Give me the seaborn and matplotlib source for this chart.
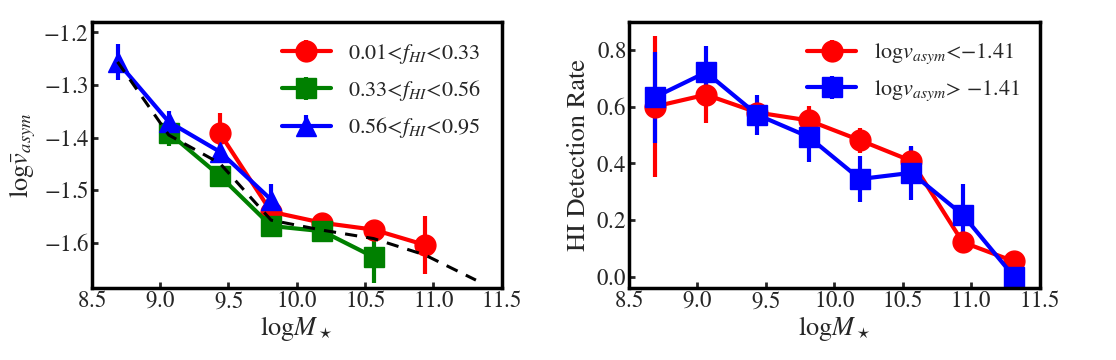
import numpy as np
import matplotlib
matplotlib.use('Agg')
import matplotlib.pyplot as plt
import seaborn as sns

# bin centres in stellar mass
mass = [8.6875, 9.0625, 9.4375, 9.8125, 10.1875, 10.5625, 10.9375, 11.3125]

# left panel: mean log v_asym in bins of HI fraction
low_x = [9.4375, 9.8125, 10.1875, 10.5625, 10.9375]
low_y = [-1.392, -1.541, -1.562, -1.575, -1.604]
low_err = [0.038, 0.012, 0.010, 0.012, 0.055]

mid_x = [9.0625, 9.4375, 9.8125, 10.1875, 10.5625]
mid_y = [-1.391, -1.473, -1.568, -1.578, -1.627]
mid_err = [0.025, 0.012, 0.010, 0.010, 0.050]

high_x = [8.6875, 9.0625, 9.4375, 9.8125]
high_y = [-1.256, -1.370, -1.427, -1.518]
high_err = [0.035, 0.020, 0.012, 0.030]

all_y = [-1.256, -1.395, -1.449, -1.557, -1.576, -1.592, -1.623, -1.671]

# right panel: HI detection rate split by asymmetry
det_low = [0.601, 0.643, 0.580, 0.552, 0.482, 0.409, 0.122, 0.054]
det_low_err = [0.25, 0.10, 0.03, 0.05, 0.045, 0.05, 0.04, 0.0]
det_high = [0.634, 0.722, 0.572, 0.494, 0.345, 0.367, 0.219, 0.0]
det_high_err = [0.16, 0.093, 0.07, 0.09, 0.08, 0.095, 0.108, 0.0]

sns.set_style('ticks')
plt.rcParams['font.family'] = ['STIXGeneral', 'DejaVu Serif']
plt.rcParams['mathtext.fontset'] = 'stix'
plt.rcParams['axes.formatter.use_mathtext'] = True
plt.rcParams['axes.unicode_minus'] = True
plt.rcParams['font.size'] = 16

fig = plt.figure(figsize=(11.16, 3.6), dpi=100)
ax1 = fig.add_axes([0.0824, 0.2, 0.367, 0.739])
ax2 = fig.add_axes([0.5636, 0.2, 0.368, 0.739])

kw = dict(lw=3, elinewidth=3, capsize=0, ms=15)
ax1.errorbar(low_x, low_y, yerr=low_err, color='red', marker='o',
             label='0.01<$f_{HI}$<0.33', **kw)
ax1.errorbar(mid_x, mid_y, yerr=mid_err, color='green', marker='s',
             label='0.33<$f_{HI}$<0.56', **kw)
ax1.errorbar(high_x, high_y, yerr=high_err, color='blue', marker='^',
             label='0.56<$f_{HI}$<0.95', **kw)
sns.lineplot(x=mass, y=all_y, ax=ax1, color='black', lw=2.2,
             linestyle=(0, (4, 3)), zorder=5, legend=False)
ax1.set_xlim(8.5, 11.5)
ax1.set_ylim(-1.686, -1.18)
ax1.set_yticks([-1.6, -1.5, -1.4, -1.3, -1.2])
ax1.set_xlabel(r'log$M_\star$', fontsize=19, labelpad=1)
ax1.set_ylabel(r'log$\bar{v}_{asym}$', fontsize=19, labelpad=4)
ax1.legend(loc='upper right', frameon=False, fontsize=16, handlelength=2.2,
           labelspacing=0.55, borderaxespad=0.5, handletextpad=0.8)

ax2.errorbar(mass, det_low, yerr=det_low_err, color='red', marker='o',
             label='log$v_{asym}$<\u22121.41', **kw)
ax2.errorbar(mass, det_high, yerr=det_high_err, color='blue', marker='s',
             label='log$v_{asym}$> \u22121.41', **kw)
ax2.set_xlim(8.5, 11.5)
ax2.set_ylim(-0.04, 0.9)
ax2.set_yticks([0.0, 0.2, 0.4, 0.6, 0.8])
ax2.set_xlabel(r'log$M_\star$', fontsize=19, labelpad=1)
ax2.set_ylabel('HI Detection Rate', fontsize=19, labelpad=4)
ax2.legend(loc='upper right', frameon=False, fontsize=16, handlelength=2.2,
           labelspacing=0.55, borderaxespad=0.5, handletextpad=0.8)

for ax in (ax1, ax2):
    ax.set_xticks([8.5, 9.0, 9.5, 10.0, 10.5, 11.0, 11.5])
    ax.tick_params(direction='in', width=2, length=4, labelsize=16.5, pad=2)
    for s in ax.spines.values():
        s.set_linewidth(2.5)
        s.set_color('black')
        s.set_visible(True)

fig.savefig('out.png', dpi=100)
